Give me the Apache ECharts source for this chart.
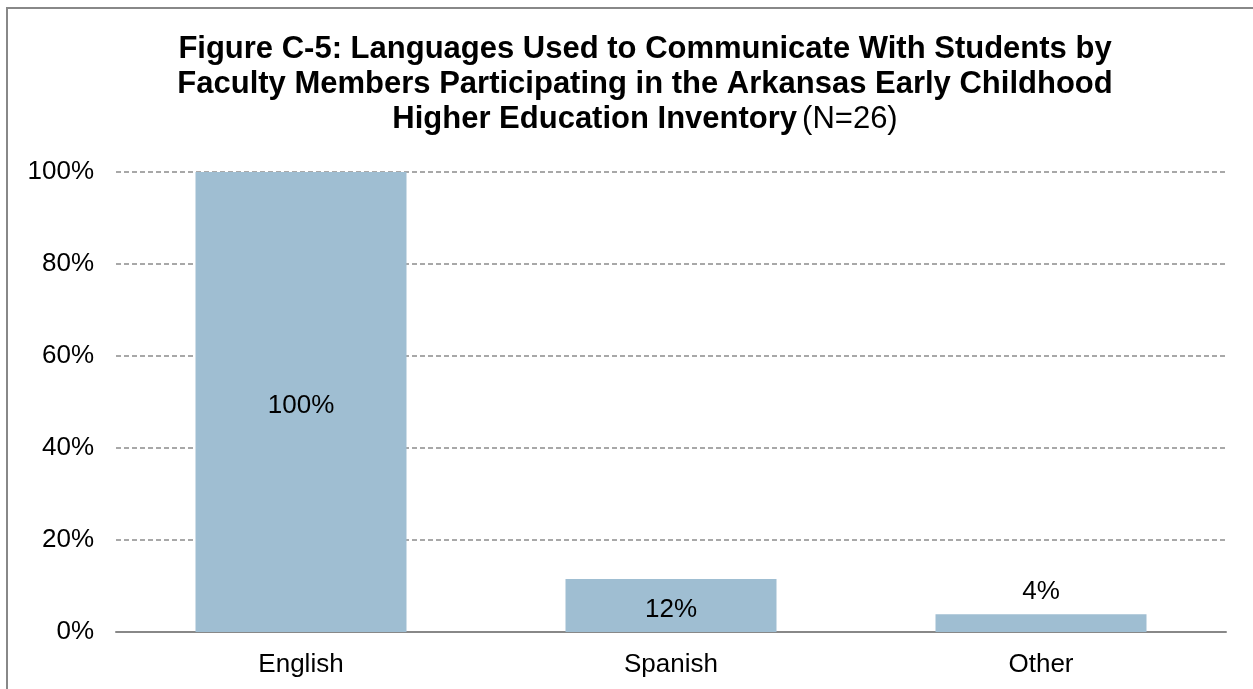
<!DOCTYPE html>
<html>
<head>
<meta charset="utf-8">
<script src="https://cdn.jsdelivr.net/npm/echarts@6/dist/echarts.min.js"></script>
<style>
html,body{margin:0;padding:0;background:#fff;}
#chart{width:1253px;height:689px;}
</style>
</head>
<body>
<div id="chart"></div>
<script>
var categories = ['English', 'Spanish', 'Other'];
var values = [100, 11.54, 3.85];
var valueLabels = ['100%', '12%', '4%'];
var labelPositions = ['inside', 'inside', 'top'];
var yTicks = [0, 20, 40, 60, 80, 100];

var chart = echarts.init(document.getElementById('chart'));
var font = 'Liberation Sans, Arial, sans-serif';
var option = {
  animation: false,
  backgroundColor: '#ffffff',
  graphic: [{
    type: 'rect',
    shape: {x: 7, y: 8, width: 1270, height: 720},
    style: {fill: 'none', stroke: '#888888', lineWidth: 2},
    silent: true
  }],
  title: {
    text: '{b|Figure C-5: Languages Used to Communicate With Students by}\n{b|Faculty Members Participating in the Arkansas Early Childhood}\n{b|Higher Education Inventory} {n|(N=26)}',
    left: 640,
    textAlign: 'center',
    top: 27,
    textStyle: {
      rich: {
        b: {fontFamily: font, fontSize: 31, fontWeight: 'bold', color: '#000', lineHeight: 35},
        n: {fontFamily: font, fontSize: 31, fontWeight: 'normal', color: '#000', lineHeight: 35}
      }
    }
  },
  grid: {left: 116, right: 27, top: 172, bottom: 57},
  xAxis: {
    type: 'category',
    data: categories,
    axisLine: {show: true, lineStyle: {color: '#888888', width: 2}},
    axisTick: {show: false},
    axisLabel: {fontFamily: font, fontSize: 26, color: '#000', margin: 20}
  },
  yAxis: {
    type: 'value',
    min: 0, max: 100, interval: 20,
    axisLine: {show: false},
    axisTick: {show: false},
    splitLine: {show: true, lineStyle: {color: '#8c8c8c', type: [5, 3], width: 1.5}},
    axisLabel: {
      fontFamily: font, fontSize: 26, color: '#000', margin: 22,
      padding: [7, 0, 0, 0],
      formatter: function (v) { return yTicks.indexOf(v) >= 0 ? v + '%' : ''; }
    }
  },
  series: [{
    type: 'bar',
    barWidth: 211,
    itemStyle: {color: '#9FBED2'},
    data: values.map(function (v, i) {
      return {
        value: v,
        label: {
          show: true,
          position: labelPositions[i],
          distance: 9,
          offset: labelPositions[i] === 'inside' ? [0, 4] : [0, 0],
          formatter: valueLabels[i],
          fontFamily: font, fontSize: 26, color: '#000'
        }
      };
    })
  }]
};
chart.setOption(option);
</script>
</body>
</html>
